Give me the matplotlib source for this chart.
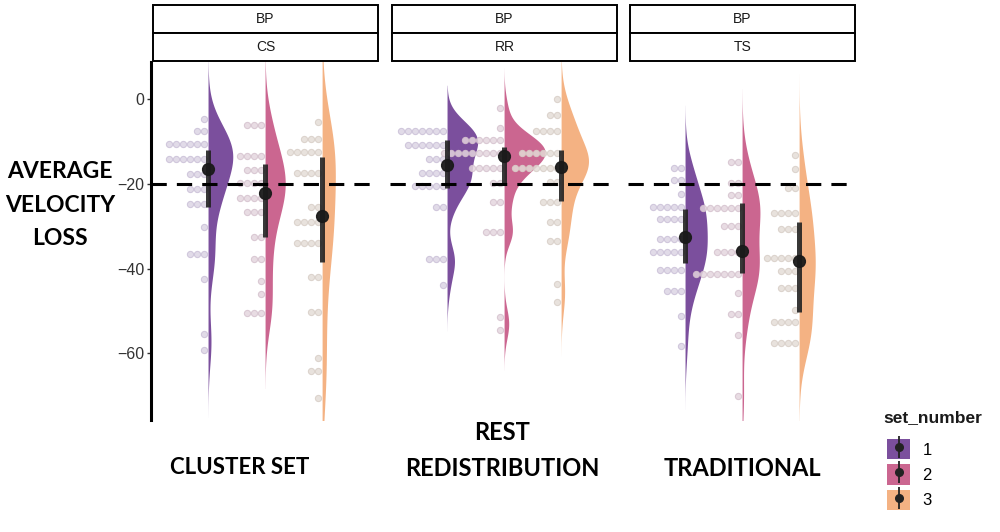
import numpy as np
import matplotlib
matplotlib.use("Agg")
import matplotlib.pyplot as plt
from matplotlib.patches import Patch, Rectangle
from matplotlib.lines import Line2D
from matplotlib.legend_handler import HandlerTuple

plt.rcParams['font.family'] = ['Liberation Sans', 'DejaVu Sans']

# --- data: dot rows (value, how many dots) ---
panel_names = ["CS", "RR", "TS"]
set_numbers = ["1", "2", "3"]

cs1_vals = [-4.6, -7.5, -10.6, -14.1, -17.7, -21.3, -24.8, -30.3, -36.6, -42.5, -55.5, -59.3]
cs1_cnt = [1, 2, 6, 6, 3, 3, 3, 1, 3, 1, 1, 1]
cs2_vals = [-6.1, -13.4, -16.7, -19.9, -23.4, -26.7, -32.6, -37.7, -42.9, -46.0, -50.5]
cs2_cnt = [3, 4, 3, 4, 4, 3, 2, 2, 1, 1, 3]
cs3_vals = [-5.3, -9.3, -12.4, -17.4, -25.4, -28.9, -34.0, -42.1, -50.3, -61.2, -64.3, -70.6]
cs3_cnt = [1, 3, 5, 4, 2, 4, 4, 2, 2, 1, 2, 1]

rr1_vals = [-7.5, -10.7, -14.2, -17.5, -20.4, -25.4, -37.8, -43.9]
rr1_cnt = [7, 6, 3, 4, 5, 2, 3, 1]
rr2_vals = [-2.0, -6.7, -9.7, -12.8, -16.3, -19.7, -24.4, -31.4, -51.5, -54.6]
rr2_cnt = [1, 1, 6, 9, 5, 2, 2, 3, 1, 1]
rr3_vals = [0.0, -3.7, -7.5, -12.7, -16.3, -19.5, -24.2, -28.9, -33.6, -43.7, -47.8]
rr3_cnt = [1, 2, 4, 6, 7, 2, 3, 2, 2, 1, 1]

ts1_vals = [-16.3, -19.2, -22.4, -25.4, -28.4, -33.1, -36.2, -40.3, -45.2, -51.2, -58.4]
ts1_cnt = [2, 2, 1, 5, 4, 4, 5, 4, 3, 1, 1]
ts2_vals = [-14.9, -19.7, -22.7, -25.7, -29.9, -36.2, -41.3, -45.8, -50.8, -55.7, -70.2]
ts2_cnt = [2, 2, 2, 6, 3, 4, 7, 1, 2, 1, 1]
ts3_vals = [-13.2, -16.5, -20.9, -27.0, -30.7, -37.6, -40.7, -44.5, -49.8, -52.7, -57.6]
ts3_cnt = [1, 1, 2, 4, 3, 5, 3, 3, 1, 4, 4]

# point + interval (median, lower, upper)
med = [[-16.4, -22.1, -27.5], [-15.5, -13.4, -15.9], [-32.5, -35.8, -38.2]]
lower = [[-25.4, -32.5, -38.4], [-20.9, -19.8, -24.0], [-38.6, -41.1, -50.2]]
upper = [[-11.9, -15.3, -13.7], [-9.6, -11.4, -12.1], [-26.0, -24.6, -28.9]]

ref_line = -20

dots = [
    [(cs1_vals, cs1_cnt), (cs2_vals, cs2_cnt), (cs3_vals, cs3_cnt)],
    [(rr1_vals, rr1_cnt), (rr2_vals, rr2_cnt), (rr3_vals, rr3_cnt)],
    [(ts1_vals, ts1_cnt), (ts2_vals, ts2_cnt), (ts3_vals, ts3_cnt)],
]

colors = ['#7b4f9d', '#cb6690', '#f4b283']
dot_fc = ['#dcd5e4', '#e4d6de', '#e4ddd7']
dot_ec = ['#cbc1d8', '#d6c3cf', '#d8cfc8']


def kde_half(values, adjust=1.1):
    # gaussian kde with R's bw.nrd0, not trimmed (3 bw past the data)
    v = np.asarray(values, float)
    n = len(v)
    sd = v.std(ddof=1)
    q75, q25 = np.percentile(v, [75, 25])
    lo = min(sd, (q75 - q25) / 1.34)
    bw = 0.9 * lo * n ** -0.2 * adjust
    grid = np.linspace(v.min() - 3 * bw, v.max() + 3 * bw, 400)
    d = np.exp(-0.5 * ((grid[:, None] - v[None, :]) / bw) ** 2).sum(1)
    d = d / (n * bw * np.sqrt(2 * np.pi))
    return grid, d


dens = [[kde_half(np.repeat(vals, cnt)) for vals, cnt in row] for row in dots]
dmax = max(d.max() for row in dens for _, d in row)
scale = 0.72 / dmax

fig = plt.figure(figsize=(10, 5.32), dpi=100)
ax_left = [0.151, 0.390, 0.628]
ax_w = 0.227
ax_bot = 112 / 532
ax_h = 358 / 532

for p in range(3):
    ax = fig.add_axes([ax_left[p], ax_bot, ax_w, ax_h])
    ax.set_xlim(0, 3.98)
    ax.set_ylim(-75.8, 8.8)
    for s in ['top', 'right', 'bottom']:
        ax.spines[s].set_visible(False)
    ax.set_xticks([])
    if p == 0:
        ax.spines['left'].set_linewidth(2.2)
        ax.set_yticks([0, -20, -40, -60])
        ax.set_yticklabels(['0', '\u221220', '\u221240', '\u221260'], fontsize=11.5, color='#333333')
        ax.tick_params(axis='y', length=3, width=1, color='#333333', pad=2)
    else:
        ax.spines['left'].set_visible(False)
        ax.set_yticks([])

    for g in range(3):
        base = g + 1
        grid, d = dens[p][g]
        ax.fill_betweenx(grid, base, base + d * scale, color=colors[g], lw=0, zorder=1)
        vals, cnt = dots[p][g]
        for v, c in zip(vals, cnt):
            xs = base - 0.07 - 0.123 * np.arange(c)
            ax.scatter(xs, np.full(c, v), s=20, facecolor=dot_fc[g], edgecolor=dot_ec[g],
                       linewidth=0.8, alpha=0.85, zorder=2)
        ax.plot([base, base], [lower[p][g], upper[p][g]], color='#222222', lw=3.6,
                alpha=0.9, solid_capstyle='butt', zorder=3)
        ax.plot(base, med[p][g], 'o', color='#1a1a1a', ms=8.5, alpha=0.95, zorder=4)

    ax.axhline(ref_line, color='black', lw=2.2, linestyle=(0, (5, 3.3)), zorder=5)

    # facet strips
    x0 = ax_left[p] + 0.002
    for lab, top in [("BP", 5), (panel_names[p], 33)]:
        y0 = 1 - (top + 28) / 532
        fig.patches.append(Rectangle((x0, y0), ax_w - 0.002, 28 / 532, transform=fig.transFigure,
                                     facecolor='white', edgecolor='black', lw=1.4))
        fig.text(x0 + (ax_w - 0.002) / 2, y0 + 14 / 532, lab, ha='center', va='center',
                 fontsize=10, color='#1a1a1a')

bold = dict(fontweight='bold', family=['Lato', 'DejaVu Sans'], ha='center', va='center')

# panel names below
fig.text(0.240, 1 - 468 / 532, "CLUSTER SET", fontsize=16, **bold)
fig.text(0.502, 1 - 432 / 532, "REST", fontsize=17, **bold)
fig.text(0.502, 1 - 468 / 532, "REDISTRIBUTION", fontsize=17, **bold)
fig.text(0.742, 1 - 468 / 532, "TRADITIONAL", fontsize=17, **bold)

# y axis title
for txt, ypx in [("AVERAGE", 172), ("VELOCITY", 205), ("LOSS", 238)]:
    fig.text(0.060, 1 - ypx / 532, txt, fontsize=16.5, **bold)

# legend
fig.text(0.883, 1 - 418 / 532, "set_number", fontsize=12.5, fontweight='bold',
         ha='left', va='center', color='#1a1a1a')
handles = [(Patch(facecolor=c, edgecolor='none'),
            Line2D([], [], color='#222222', marker='|', ms=16, mew=1.3, ls='none'),
            Line2D([], [], color='#222222', marker='o', ms=5.5, ls='none')) for c in colors]
fig.legend(handles, set_numbers, loc='upper left',
           bbox_to_anchor=(0.887, 1 - 439 / 532), frameon=False,
           handler_map={tuple: HandlerTuple(ndivide=1)},
           fontsize=12, handlelength=1.38, handleheight=1.5, labelspacing=0.3,
           handletextpad=0.75, borderpad=0, borderaxespad=0)

fig.savefig("out.png", dpi=100)
